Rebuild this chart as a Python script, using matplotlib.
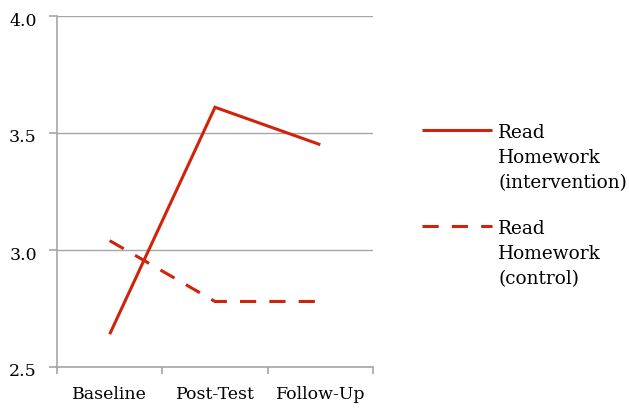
import matplotlib
matplotlib.use("Agg")
import matplotlib.pyplot as plt
from matplotlib.lines import Line2D
from matplotlib.transforms import ScaledTranslation

categories = ["Baseline", "Post-Test", "Follow-Up"]
intervention = [2.64, 3.61, 3.45]
control = [3.04, 2.78, 2.78]
y_ticks = [2.5, 3.0, 3.5, 4.0]
y_tick_labels = ["2.5", "3.0", "3.5", "4.0"]
legend_labels = ["Read\nHomework\n(intervention)", "Read\nHomework\n(control)"]

RED = "#CF230C"
GRID = "#A6A6A6"
FONT = "DejaVu Serif"

plt.rcParams["font.family"] = FONT

fig = plt.figure(figsize=(6.29, 4.08), dpi=100)
ax = fig.add_axes([57 / 629, 41 / 408, 316 / 629, 351 / 408])

x = range(len(categories))
dash = (0, (5.3, 4.3))
ax.plot(x, intervention, color=RED, lw=2.2, solid_capstyle="butt",
        solid_joinstyle="miter")
ax.plot(x, control, color=RED, lw=2.2, linestyle=dash, dash_capstyle="butt",
        dash_joinstyle="miter")

ax.set_xlim(-0.5, len(categories) - 0.5)
ax.set_ylim(2.5, 4.0)
ax.set_yticks(y_ticks)
ax.set_yticklabels(y_tick_labels, fontsize=12.5)
ax.set_xticks(list(x))
ax.set_xticklabels(categories, fontsize=12.5)
ax.set_xticks([i - 0.5 for i in range(len(categories) + 1)], minor=True)
ax.tick_params(axis="x", which="major", length=0, pad=14)
ax.tick_params(axis="x", which="minor", length=5, color=GRID, width=1.2)
ax.tick_params(axis="y", length=6, color=GRID, width=1.2, pad=8.5)

# tick numbers sit a little below their gridlines
shift = ScaledTranslation(0, -3 / 100, fig.dpi_scale_trans)
for lbl in ax.get_yticklabels():
    lbl.set_transform(lbl.get_transform() + shift)

ax.grid(axis="y", color=GRID, lw=1)
ax.set_axisbelow(True)
for side in ("top", "right"):
    ax.spines[side].set_visible(False)
for side in ("left", "bottom"):
    ax.spines[side].set_color(GRID)
    ax.spines[side].set_linewidth(1.2)

# legend drawn by hand so the sample line sits beside the first text line
W, H = 629, 408
entries = [(130, "-", legend_labels[0]), (226, dash, legend_labels[1])]
for y_px, style, label in entries:
    yf = 1 - y_px / H
    fig.add_artist(Line2D([422 / W, 492 / W], [yf, yf], color=RED, lw=2.2,
                          linestyle=style, solid_capstyle="butt",
                          dash_capstyle="butt", transform=fig.transFigure))
    fig.text(498 / W, 1 - (y_px - 6) / H, label, fontsize=13.3, va="top",
             ha="left", linespacing=1.5)

fig.savefig("out.png", dpi=100)
